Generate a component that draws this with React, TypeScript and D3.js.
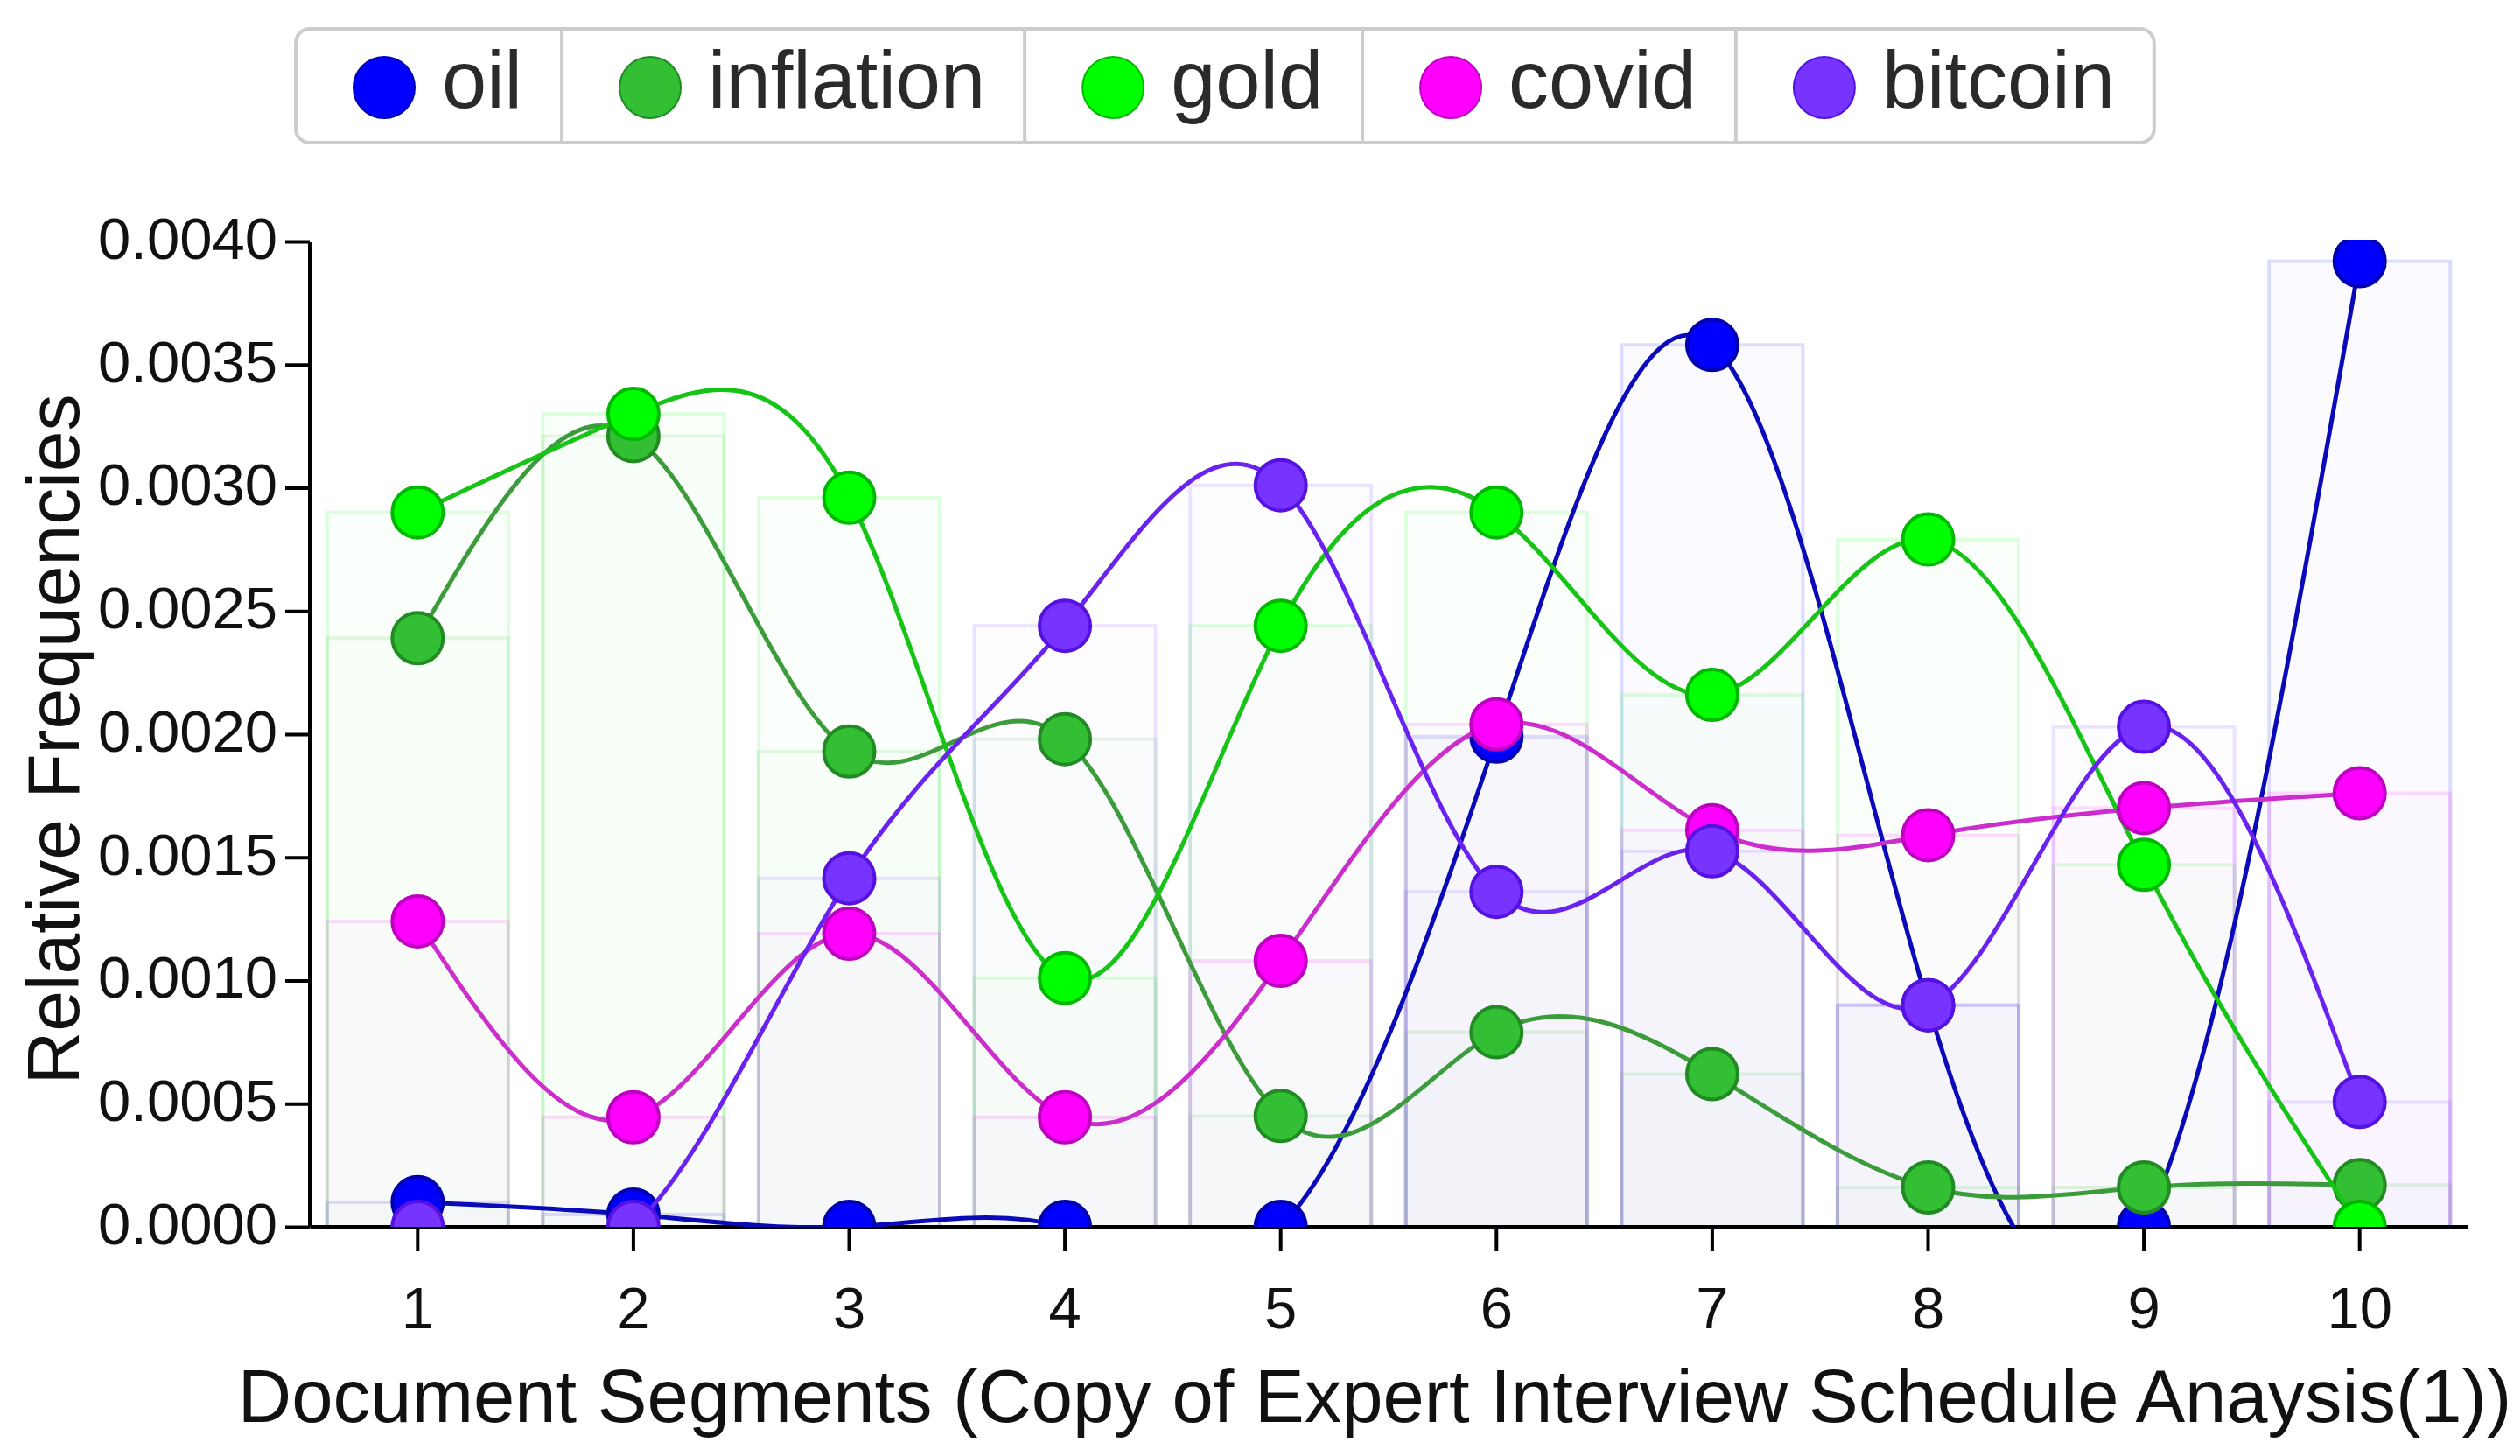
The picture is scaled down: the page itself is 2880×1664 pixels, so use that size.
import React, { useEffect, useRef } from 'react';
import * as d3 from 'd3';

const segments = [1, 2, 3, 4, 5, 6, 7, 8, 9, 10];
const seriesNames = ['oil', 'inflation', 'gold', 'covid', 'bitcoin'];

const oil = [0.0001, 0.00005, 0, 0, 0, 0.00199, 0.00358, 0.0009, 0, 0.00392];
const inflation = [0.00239, 0.00321, 0.00193, 0.00198, 0.00045, 0.00079, 0.00062, 0.00016, 0.00016, 0.00017];
const gold = [0.0029, 0.0033, 0.00296, 0.00101, 0.00244, 0.0029, 0.00216, 0.00279, 0.00147, 0];
const covid = [0.00124, 0.000445, 0.00119, 0.000445, 0.00108, 0.00204, 0.00161, 0.00159, 0.0017, 0.00176];
const bitcoin = [0, 0, 0.001415, 0.00244, 0.00301, 0.00136, 0.001525, 0.0009, 0.00203, 0.000507];

const yTicks = [0, 0.0005, 0.001, 0.0015, 0.002, 0.0025, 0.003, 0.0035, 0.004];
const xTitle = 'Document Segments (Copy of Expert Interview Schedule Anaysis(1))';
const yTitle = 'Relative Frequencies';

const fills = ['#0000ff', '#33bf33', '#00ff00', '#ff00ff', '#7733ff'];
const lineColors = ['#0a0ab8', '#3c9c3c', '#16c416', '#cc2ecc', '#6a22f0'];
const edgeColors = ['#0000b0', '#228a22', '#00b800', '#c000c0', '#5511e0'];

const FONT = '"Liberation Sans", Arial, sans-serif';

const App: React.FC = () => {
  const ref = useRef<SVGSVGElement>(null);

  useEffect(() => {
    if (!ref.current) return;
    const svg = d3.select(ref.current);
    svg.selectAll('*').remove();

    const values = [oil, inflation, gold, covid, bitcoin];
    const left = 354;
    const right = 2820;
    const top = 276;
    const bottom = 1402;

    const x = d3.scaleBand<number>().domain(segments).range([left, right]).padding(0);
    const y = d3.scaleLinear().domain([0, 0.004]).range([bottom, top]);
    const cx = (s: number) => (x(s) as number) + x.bandwidth() / 2;
    const barW = x.bandwidth() * 0.84;

    svg
      .append('defs')
      .append('clipPath')
      .attr('id', 'plot-clip')
      .append('rect')
      .attr('x', left)
      .attr('y', top - 2)
      .attr('width', right - left)
      .attr('height', bottom - top + 2);

    // faint overlapping bars, one per series and segment
    const bars = svg.append('g');
    values.forEach((vals, i) => {
      bars
        .selectAll(null)
        .data(segments)
        .enter()
        .append('rect')
        .attr('x', s => cx(s) - barW / 2)
        .attr('y', (s, j) => y(vals[j]))
        .attr('width', barW)
        .attr('height', (s, j) => bottom - y(vals[j]))
        .attr('fill', fills[i])
        .attr('fill-opacity', 0.014)
        .attr('stroke', fills[i])
        .attr('stroke-opacity', 0.13)
        .attr('stroke-width', 4);
    });

    // axes
    const yAxis = svg
      .append('g')
      .attr('transform', `translate(${left},0)`)
      .call(
        d3
          .axisLeft(y)
          .tickValues(yTicks)
          .tickSize(28)
          .tickSizeOuter(0)
          .tickPadding(9)
          .tickFormat(d3.format('.4f') as any),
      );
    yAxis.select('.domain').attr('stroke', '#000').attr('stroke-width', 5);
    yAxis.selectAll('.tick line').attr('stroke', '#000').attr('stroke-width', 4);
    yAxis
      .selectAll('.tick text')
      .attr('dy', '0.29em')
      .attr('fill', '#111')
      .style('font-size', '67px')
      .style('font-family', FONT);

    const xAxis = svg
      .append('g')
      .attr('transform', `translate(0,${bottom})`)
      .call(d3.axisBottom(x).tickSize(28).tickSizeOuter(0).tickPadding(40));
    xAxis.select('.domain').attr('stroke', '#000').attr('stroke-width', 5);
    xAxis.selectAll('.tick line').attr('stroke', '#000').attr('stroke-width', 4);
    xAxis
      .selectAll('.tick text')
      .attr('fill', '#111')
      .style('font-size', '67px')
      .style('font-family', FONT);

    svg
      .append('text')
      .attr('x', 1571)
      .attr('y', 1625)
      .attr('text-anchor', 'middle')
      .attr('fill', '#111')
      .style('font-size', '85px')
      .style('font-family', FONT)
      .text(xTitle);

    svg
      .append('text')
      .attr('transform', 'translate(90,845) rotate(-90)')
      .attr('text-anchor', 'middle')
      .attr('fill', '#111')
      .style('font-size', '84px')
      .style('font-family', FONT)
      .text(yTitle);

    // series lines and markers
    const plot = svg.append('g').attr('clip-path', 'url(#plot-clip)');
    const line = d3
      .line<number>()
      .x((d, j) => cx(segments[j]))
      .y(d => y(d))
      .curve(d3.curveNatural);

    values.forEach((vals, i) => {
      plot
        .append('path')
        .datum(vals)
        .attr('fill', 'none')
        .attr('stroke', lineColors[i])
        .attr('stroke-width', 5)
        .attr('d', line);

      plot
        .selectAll(null)
        .data(vals)
        .enter()
        .append('circle')
        .attr('cx', (d, j) => cx(segments[j]))
        .attr('cy', d => y(d))
        .attr('r', 29)
        .attr('fill', fills[i])
        .attr('stroke', edgeColors[i])
        .attr('stroke-width', 4);
    });

    // legend
    const legend = svg.append('g');
    const boxLeft = 338;
    const boxTop = 33;
    const boxH = 130;
    const frame = legend.append('rect');
    let cursor = boxLeft;
    const dividers: number[] = [];
    seriesNames.forEach((name, i) => {
      legend
        .append('circle')
        .attr('cx', cursor + 101)
        .attr('cy', boxTop + 67)
        .attr('r', 35)
        .attr('fill', fills[i])
        .attr('stroke', edgeColors[i])
        .attr('stroke-width', 2);
      const label = legend
        .append('text')
        .attr('x', cursor + 167)
        .attr('y', boxTop + 90)
        .attr('fill', '#2a2a2a')
        .style('font-size', '92px')
        .style('font-family', FONT)
        .text(name);
      const tw = (label.node() as SVGTextElement).getComputedTextLength();
      cursor = cursor + 167 + tw + 45;
      if (i < seriesNames.length - 1) dividers.push(cursor);
    });
    frame
      .attr('x', boxLeft)
      .attr('y', boxTop)
      .attr('width', cursor - boxLeft)
      .attr('height', boxH)
      .attr('rx', 16)
      .attr('fill', '#fff')
      .attr('stroke', '#cccccc')
      .attr('stroke-width', 4);
    legend
      .selectAll(null)
      .data(dividers)
      .enter()
      .append('line')
      .attr('x1', d => d)
      .attr('x2', d => d)
      .attr('y1', boxTop)
      .attr('y2', boxTop + boxH)
      .attr('stroke', '#cccccc')
      .attr('stroke-width', 4);
  }, []);

  return (
    <svg
      ref={ref}
      width={2880}
      height={1664}
      style={{ position: 'absolute', left: 0, top: 0, background: '#fff' }}
    />
  );
};

export default App;
